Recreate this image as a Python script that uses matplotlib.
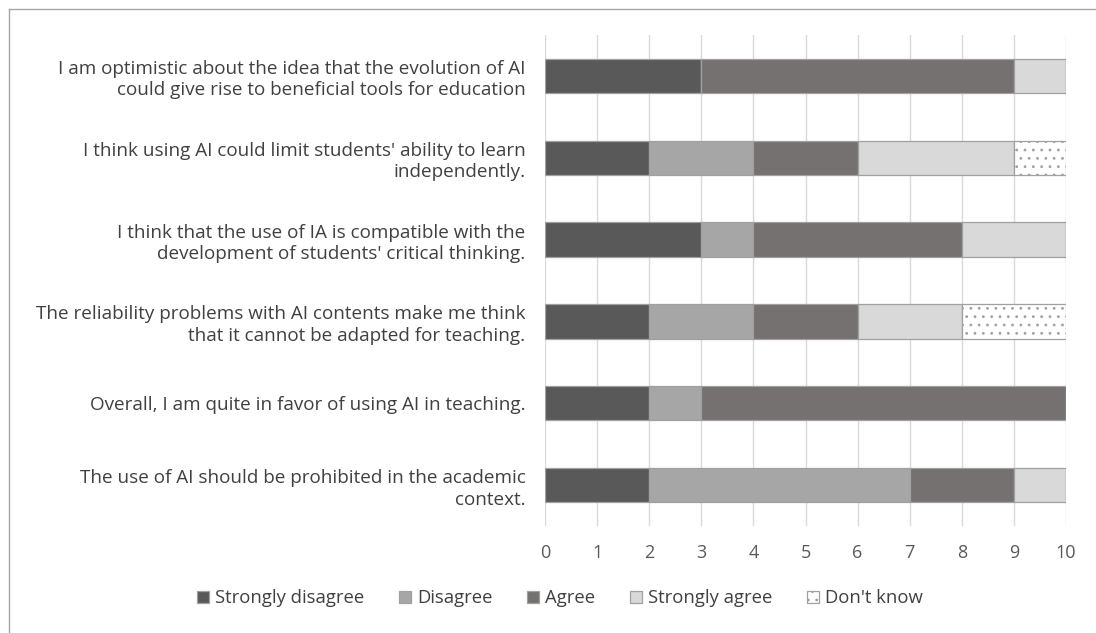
import matplotlib.pyplot as plt
import numpy as np

plt.rcParams['font.family'] = ['Open Sans', 'DejaVu Sans']
plt.rcParams['hatch.linewidth'] = 0.8

# statements, bottom row first
statements = [
    "The use of AI should be prohibited in the academic\ncontext.",
    "Overall, I am quite in favor of using AI in teaching.",
    "The reliability problems with AI contents make me think\nthat it cannot be adapted for teaching.",
    "I think that the use of IA is compatible with the\ndevelopment of students' critical thinking.",
    "I think using AI could limit students' ability to learn\nindependently.",
    "I am optimistic about the idea that the evolution of AI\ncould give rise to beneficial tools for education",
]
categories = ["Strongly disagree", "Disagree", "Agree", "Strongly agree", "Don't know"]
strongly_disagree = [2, 2, 2, 3, 2, 3]
disagree = [5, 1, 2, 1, 2, 0]
agree = [2, 7, 2, 4, 2, 6]
strongly_agree = [1, 0, 2, 2, 3, 1]
dont_know = [0, 0, 2, 0, 1, 0]

series = [strongly_disagree, disagree, agree, strongly_agree, dont_know]
colors = ["#595959", "#a6a6a6", "#767171", "#d9d9d9", "#ffffff"]
hatches = [None, None, None, None, ".."]

fig = plt.figure(figsize=(10.96, 6.33), dpi=100)
ax = fig.add_axes([0.4973, 0.169, 0.4753, 0.7757])

y = np.arange(len(statements))
left = np.zeros(len(statements))
for vals, c, h, name in zip(series, colors, hatches, categories):
    vals = np.array(vals, dtype=float)
    ax.barh(y, vals, left=left, height=0.42, color=c, edgecolor="#a0a0a0",
            linewidth=0.9, hatch=h, label=name, zorder=3)
    left += vals

ax.set_xlim(0, 10)
ax.set_ylim(-0.5, len(statements) - 0.5)
ax.set_xticks(range(11))
ax.set_yticks(y)
ax.set_yticklabels(statements, ha="right", multialignment="right", linespacing=1.25)
ax.tick_params(axis="y", length=0, pad=14, labelsize=13.6, labelcolor="#404040")
ax.tick_params(axis="x", length=0, pad=13, labelsize=13, labelcolor="#595959")
ax.grid(axis="x", color="#d9d9d9", linewidth=1, zorder=0)
for s in ax.spines.values():
    s.set_visible(False)

leg = fig.legend(loc="center", bbox_to_anchor=(0.511, 0.055), ncol=5, frameon=False,
                 fontsize=13.3, handlelength=0.65, handleheight=0.65, handletextpad=0.3,
                 columnspacing=1.9, labelcolor="#404040")

# frame around the chart (top and left edges visible)
fig.add_artist(plt.Line2D([9 / 1096, 1.0], [1 - 9 / 633, 1 - 9 / 633], color="#a6a6a6", lw=1))
fig.add_artist(plt.Line2D([9 / 1096, 9 / 1096], [0.0, 1 - 9 / 633], color="#a6a6a6", lw=1))

fig.savefig("out.png", dpi=100)
